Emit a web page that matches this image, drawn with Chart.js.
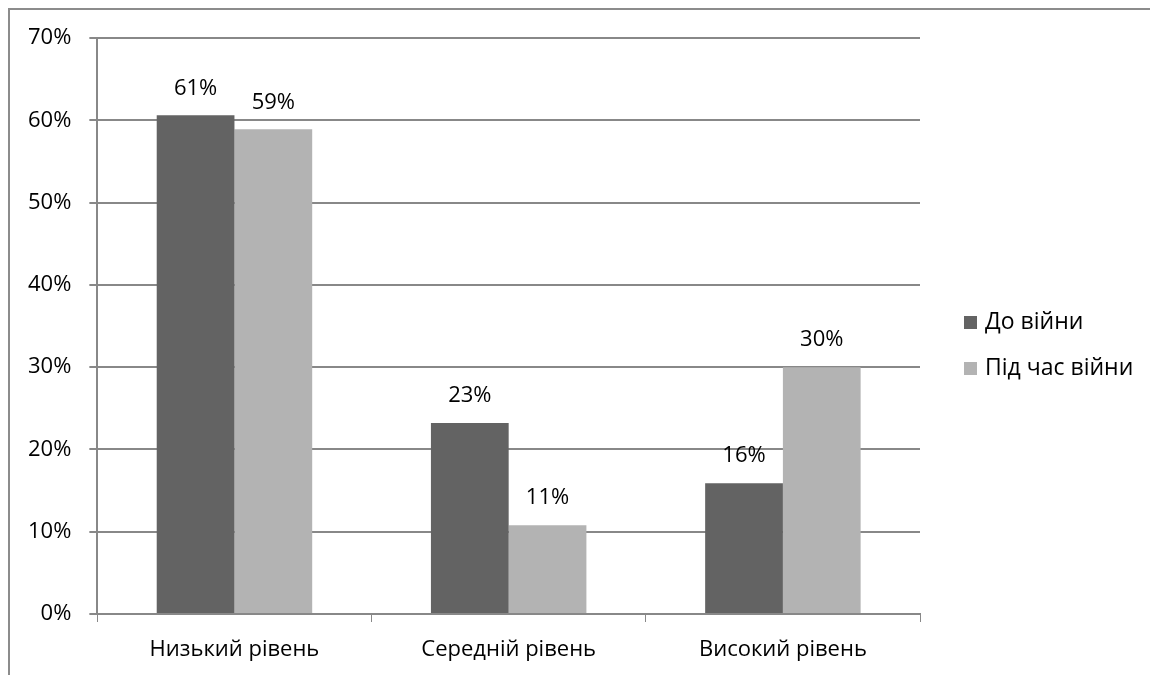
<!DOCTYPE html>
<html>
<head>
<meta charset="utf-8">
<script src="https://cdn.jsdelivr.net/npm/chart.js@4"></script>
<style>
  body { margin: 0; background: #fff; }
  #wrap { position: relative; width: 1150px; height: 675px; }
  #frame { position: absolute; left: 8px; top: 8px; right: 0; bottom: 0; border-top: 2px solid #8c8c8c; border-left: 2px solid #8c8c8c; }
  canvas { position: absolute; left: 0; top: 0; }
</style>
</head>
<body>
<div id="wrap">
  <div id="frame"></div>
  <canvas id="myChart" width="1150" height="675"></canvas>
</div>
<script>
const categories = ["Низький рівень", "Середній рівень", "Високий рівень"];
const beforeWar = [60.6, 23.2, 15.9];   // До війни
const duringWar = [58.9, 10.8, 30.0];   // Під час війни

const FONT = "'Open Sans', sans-serif";
const FS = 22;

// percent labels above bars
const barLabels = {
  id: "barLabels",
  afterDatasetsDraw(chart) {
    const ctx = chart.ctx;
    ctx.save();
    ctx.font = FS + "px " + FONT;
    ctx.fillStyle = "#000";
    ctx.textAlign = "center";
    ctx.textBaseline = "middle";
    chart.data.datasets.forEach((ds, i) => {
      chart.getDatasetMeta(i).data.forEach((bar, j) => {
        ctx.fillText(Math.round(ds.data[j]) + "%", bar.x, bar.y - 27);
      });
    });
    ctx.restore();
  }
};

// legend drawn to the right of the plot, like the Excel one
const sideLegend = {
  id: "sideLegend",
  afterDraw(chart) {
    const ctx = chart.ctx;
    const x = chart.chartArea.right + 44;
    const mid = chart.height / 2 + 8;
    ctx.save();
    ctx.font = "23px " + FONT;
    ctx.textBaseline = "middle";
    chart.data.datasets.forEach((ds, i) => {
      const y = mid + (i - 0.5) * 46;
      ctx.fillStyle = ds.backgroundColor;
      ctx.fillRect(x, y - 6.5, 13, 13);
      ctx.fillStyle = "#000";
      ctx.fillText(ds.label, x + 21, y);
    });
    ctx.restore();
  }
};

new Chart("myChart", {
  type: "bar",
  data: {
    labels: categories,
    datasets: [{
      label: "До війни",
      data: beforeWar,
      backgroundColor: "#636363"
    }, {
      label: "Під час війни",
      data: duringWar,
      backgroundColor: "#b3b3b3"
    }]
  },
  options: {
    responsive: false,
    animation: false,
    layout: { padding: { top: 38, bottom: 0, left: 10, right: 230 } },
    categoryPercentage: 0.567,
    barPercentage: 1.0,
    plugins: {
      tooltip: { enabled: false },
      legend: { display: false }
    },
    scales: {
      x: {
        grid: { drawOnChartArea: false, color: "#888", tickLength: 8, offset: true },
        border: { color: "#888", width: 2 },
        ticks: { font: { family: FONT, size: FS }, color: "#000", padding: 15 },
        afterFit: s => { s.height = 61; }
      },
      y: {
        min: 0,
        max: 70,
        ticks: {
          stepSize: 10,
          font: { family: FONT, size: FS },
          color: "#000",
          padding: 18,
          callback: v => v + "%"
        },
        grid: { color: "#888", tickLength: 8, lineWidth: 2 },
        border: { color: "#888", width: 2 }
      }
    }
  },
  plugins: [barLabels, sideLegend]
});
</script>
</body>
</html>
